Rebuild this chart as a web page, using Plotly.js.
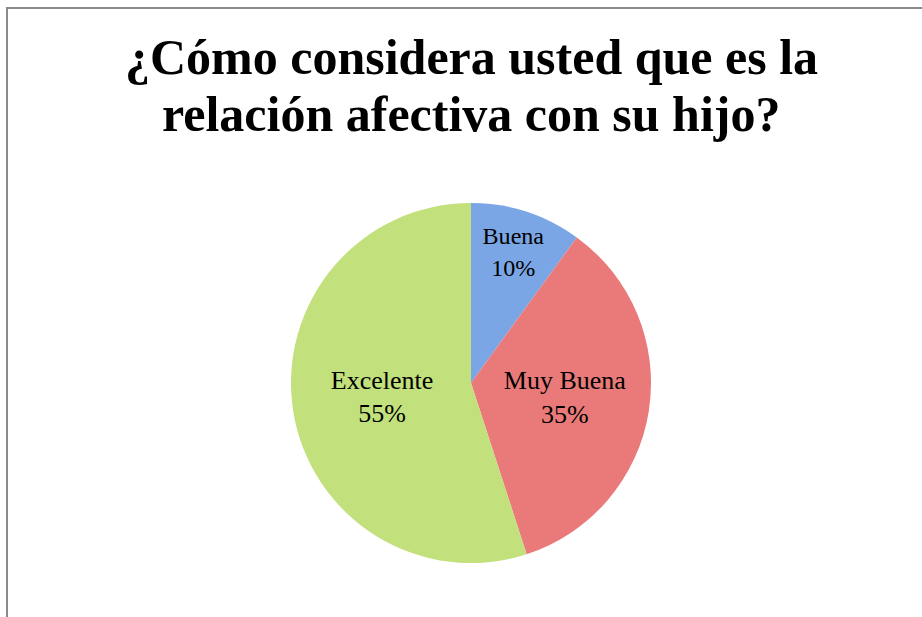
<!DOCTYPE html>
<html><head><meta charset="utf-8">
<script src="https://cdn.plot.ly/plotly-3.0.1.min.js"></script>
<style>html,body{margin:0;padding:0;background:#fff}#chart{width:922px;height:617px}</style>
</head><body><div id="chart"></div>
<script>
const categories = ["Buena", "Muy Buena", "Excelente"];
const values = [10, 35, 55];
const colors = ["#7ba6e6", "#ea7a7a", "#c2e07c"];
const titleLines = ["¿Cómo considera usted que es la", "relación afectiva con su hijo?"];

const W = 922, H = 617;
const trace = {
  type: "pie",
  labels: categories,
  values: values,
  sort: false,
  direction: "clockwise",
  rotation: 0,
  marker: {colors: colors, line: {width: 0}},
  textposition: "inside",
  insidetextorientation: "horizontal",
  textfont: {family: "Liberation Serif, serif", size: 26, color: "#000"},
  texttemplate: "%{label}<br>%{percent:.0%}",
  hoverinfo: "none",
  showlegend: false,
  domain: {x: [291/W, 651/W], y: [1 - 563/H, 1 - 203/H]}
};

const titleMid = [57, 114];
const layout = {
  width: W, height: H,
  margin: {l: 0, r: 0, t: 0, b: 0},
  paper_bgcolor: "#fff",
  annotations: titleLines.map((t, i) => ({
    text: t,
    xref: "paper", yref: "paper",
    x: 471/W, xanchor: "center",
    y: 1 - titleMid[i]/H, yanchor: "middle",
    showarrow: false,
    font: {family: "Liberation Serif, serif", size: 50, color: "#000", weight: "bold"}
  })),
  shapes: [
    {type: "line", xref: "paper", yref: "paper", x0: 6/W, x1: 1, y0: 1 - 8/H, y1: 1 - 8/H, line: {color: "#8c8c8c", width: 2}},
    {type: "line", xref: "paper", yref: "paper", x0: 7/W, x1: 7/W, y0: 0, y1: 1 - 8/H, line: {color: "#8c8c8c", width: 2}}
  ]
};

Plotly.newPlot("chart", [trace], layout, {displayModeBar: false, staticPlot: true});
</script></body></html>
